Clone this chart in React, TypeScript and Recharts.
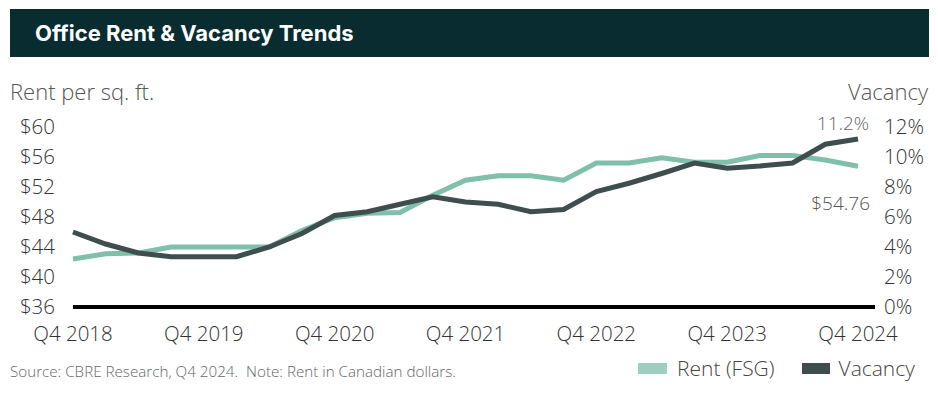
import React from 'react';
import { LineChart, Line, XAxis, YAxis } from 'recharts';

const quarters = [
  'Q4 2018', 'Q1 2019', 'Q2 2019', 'Q3 2019', 'Q4 2019',
  'Q1 2020', 'Q2 2020', 'Q3 2020', 'Q4 2020',
  'Q1 2021', 'Q2 2021', 'Q3 2021', 'Q4 2021',
  'Q1 2022', 'Q2 2022', 'Q3 2022', 'Q4 2022',
  'Q1 2023', 'Q2 2023', 'Q3 2023', 'Q4 2023',
  'Q1 2024', 'Q2 2024', 'Q3 2024', 'Q4 2024',
];

const rent = [
  42.4, 43.1, 43.2, 44.0, 44.0,
  44.0, 44.0, 46.2, 47.9,
  48.5, 48.6, 50.9, 52.9,
  53.5, 53.5, 52.9, 55.2,
  55.2, 55.9, 55.3, 55.3,
  56.2, 56.2, 55.6, 54.76,
];

const vacancy = [
  5.0, 4.2, 3.6, 3.35, 3.35,
  3.35, 4.0, 4.9, 6.1,
  6.35, 6.85, 7.35, 7.0,
  6.85, 6.35, 6.5, 7.7,
  8.25, 8.9, 9.6, 9.25,
  9.4, 9.6, 10.85, 11.2,
];

const rentTicks = [36, 40, 44, 48, 52, 56, 60];
const vacancyTicks = [0, 2, 4, 6, 8, 10, 12];

const data = quarters.map((q, i) => ({ q, rent: rent[i], vacancy: vacancy[i] }));

const FONT = "'Open Sans', 'Lato', sans-serif";
const RENT_COLOR = '#80bfab';
const VAC_COLOR = '#3e4e4e';
const LAST = quarters.length - 1;

const VacLabel = (props: any) => {
  const { x, y, index } = props;
  if (index !== LAST) return null;
  return (
    <text x={x - 15} y={y - 16} textAnchor="middle" dominantBaseline="central"
      fill="#666" fontSize={19} fontFamily={FONT} fontWeight={300}>
      {vacancy[LAST].toFixed(1)}%
    </text>
  );
};

const RentLabel = (props: any) => {
  const { x, y, index } = props;
  if (index !== LAST) return null;
  return (
    <text x={x + 12} y={y + 37} textAnchor="end" dominantBaseline="central"
      fill="#555" fontSize={19} fontFamily={FONT} fontWeight={300}>
      ${rent[LAST].toFixed(2)}
    </text>
  );
};

export default function App() {
  const tickStyle = { fill: '#333', fontSize: 20.5, fontFamily: FONT, fontWeight: 300 };
  return (
    <div style={{ position: 'absolute', left: 0, top: 0, width: 938, height: 394, background: '#fff', fontFamily: FONT }}>
      <div style={{
        position: 'absolute', left: 10, top: 9, width: 919, height: 48, background: '#082c30',
        color: '#fff', fontFamily: "'Inter', 'Open Sans', sans-serif", fontWeight: 700, fontSize: 22,
        lineHeight: '48px', paddingLeft: 25, boxSizing: 'border-box',
      }}>
        Office Rent &amp; Vacancy Trends
      </div>
      <div style={{ position: 'absolute', left: 10, top: 76, fontSize: 22, color: '#555', fontWeight: 300 }}>
        Rent per sq. ft.
      </div>
      <div style={{ position: 'absolute', right: 10, top: 76, fontSize: 22, color: '#555', fontWeight: 300 }}>
        Vacancy
      </div>
      <div style={{ position: 'absolute', left: 0, top: 0 }}>
        <LineChart width={938} height={394} data={data}
          margin={{ top: 127, right: 0, bottom: 57, left: 0 }}>
          <XAxis dataKey="q" interval={3} height={30} padding={{ left: 0, right: 17 }}
            axisLine={{ stroke: '#000', strokeWidth: 4 }} tickLine={false} tickSize={0} tickMargin={19}
            tick={tickStyle} />
          <YAxis yAxisId="rent" orientation="left" width={73} domain={[36, 60]} ticks={rentTicks}
            axisLine={false} tickLine={false} tickSize={0} tickMargin={18}
            tickFormatter={(v: number) => `$${v}`} tick={tickStyle} />
          <YAxis yAxisId="vac" orientation="right" width={63} domain={[0, 12]} ticks={vacancyTicks}
            axisLine={false} tickLine={false} tickSize={0} tickMargin={9}
            tickFormatter={(v: number) => `${v}%`} tick={tickStyle} />
          <Line yAxisId="rent" dataKey="rent" type="linear" stroke={RENT_COLOR} strokeWidth={5}
            dot={false} isAnimationActive={false} label={<RentLabel />} />
          <Line yAxisId="vac" dataKey="vacancy" type="linear" stroke={VAC_COLOR} strokeWidth={5}
            dot={false} isAnimationActive={false} label={<VacLabel />} />
        </LineChart>
      </div>
      <div style={{ position: 'absolute', left: 10, top: 361, fontSize: 15.2, color: '#666', fontWeight: 300 }}>
        Source: CBRE Research, Q4 2024.&nbsp; Note: Rent in Canadian dollars.
      </div>
      <div style={{ position: 'absolute', left: 638, top: 354, display: 'flex', alignItems: 'center', fontSize: 21, color: '#444', fontWeight: 300 }}>
        <span style={{ display: 'inline-block', width: 29, height: 11, background: '#9fcfc0', marginRight: 10 }} />
        <span style={{ marginRight: 27 }}>Rent (FSG)</span>
        <span style={{ display: 'inline-block', width: 28, height: 11, background: VAC_COLOR, marginRight: 9 }} />
        <span>Vacancy</span>
      </div>
    </div>
  );
}
